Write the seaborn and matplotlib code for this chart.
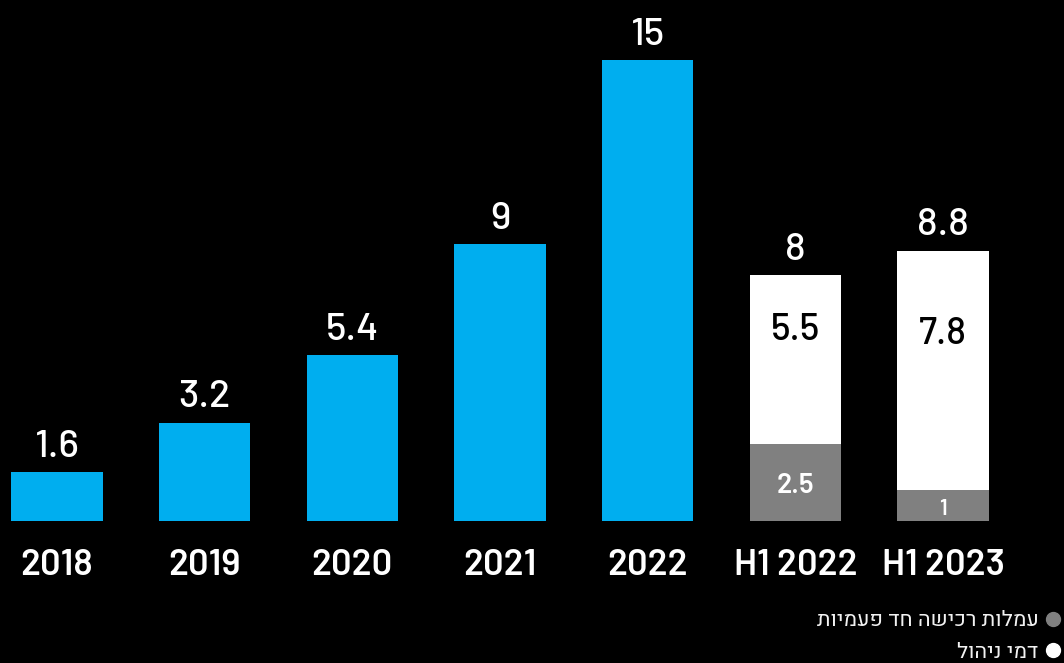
import numpy as np
import pandas as pd
import matplotlib
matplotlib.use("Agg")
import matplotlib.pyplot as plt
from matplotlib.lines import Line2D
import seaborn as sns

# Revenue by period (one-time acquisition fees + management fees)
categories = ["2018", "2019", "2020", "2021", "2022", "H1 2022", "H1 2023"]
annual_totals = [1.6, 3.2, 5.4, 9, 15, None, None]
acquisition_fees = [None, None, None, None, None, 2.5, 1]
management_fees = [None, None, None, None, None, 5.5, 7.8]
half_year_totals = [None, None, None, None, None, 8, 8.8]

legend_labels = ["עמלות רכישה חד פעמיות", "דמי ניהול"]

BLUE = "#00AEEF"
GRAY = "#808080"
WHITE = "#FFFFFF"
BG = "#000000"
NUM_FONT = ["Barlow", "DejaVu Sans"]
HEB_FONT = ["Heebo", "Noto Sans Hebrew", "DejaVu Sans"]

sns.set_theme(style="white")
plt.rcParams["font.family"] = NUM_FONT

df = pd.DataFrame({
    "category": categories,
    "annual": annual_totals,
    "fees": acquisition_fees,
    "mgmt": management_fees,
    "half_total": half_year_totals,
})
df["stack_top"] = df["fees"] + df["mgmt"]

fig = plt.figure(figsize=(10.64, 6.63), dpi=100, facecolor=BG)
ax = fig.add_axes([0, 142 / 663, 1, 507 / 663], facecolor=BG)

bar_w = 0.62
sns.barplot(data=df, x="category", y="annual", order=categories, color=BLUE,
            width=bar_w, ax=ax, saturation=1, linewidth=0)
sns.barplot(data=df, x="category", y="stack_top", order=categories, color=WHITE,
            width=bar_w, ax=ax, saturation=1, linewidth=0)
sns.barplot(data=df, x="category", y="fees", order=categories, color=GRAY,
            width=bar_w, ax=ax, saturation=1, linewidth=0)

px_per_unit = 147.67
ax.set_xlim(-57 / px_per_unit, (1064 - 57) / px_per_unit)
ax.set_ylim(0, 16.5)

def fmt(v):
    return f"{v:g}"

# totals above bars
for i, row in df.iterrows():
    total = row["annual"] if pd.notna(row["annual"]) else row["half_total"]
    ax.annotate(fmt(total), (i, total), xytext=(0, 11), textcoords="offset points",
                ha="center", va="baseline", color="white", fontsize=28,
                fontweight="medium")

# segment labels inside the stacked bars
for i, row in df.iterrows():
    if pd.notna(row["fees"]):
        fs = 20 if row["fees"] >= 2 else 16
        ax.text(i, row["fees"] / 2 - 0.1, fmt(row["fees"]), ha="center", va="center",
                color="white", fontsize=fs, fontweight="semibold")
        ax.text(i, row["fees"] + 0.6 * row["mgmt"] + 0.4, fmt(row["mgmt"]), ha="center",
                va="center", color="black", fontsize=27, fontweight="medium")

ax.set_xlabel("")
ax.set_ylabel("")
ax.set_yticks([])
ax.tick_params(axis="x", length=0, pad=20, labelsize=26, labelcolor="white")
for lbl in ax.get_xticklabels():
    lbl.set_fontweight("semibold")
for s in ax.spines.values():
    s.set_visible(False)

# legend (right-to-left: marker on the right of the text)
handles = [
    Line2D([], [], marker="o", linestyle="none", markersize=10,
           markerfacecolor=GRAY, markeredgecolor=GRAY),
    Line2D([], [], marker="o", linestyle="none", markersize=10,
           markerfacecolor=WHITE, markeredgecolor=WHITE),
]
leg = fig.legend(handles, [t[::-1] for t in legend_labels], loc="lower right",
                 bbox_to_anchor=(1061 / 1064, 0 / 663), frameon=False, markerfirst=False,
                 handletextpad=0.35, labelspacing=0.5, handlelength=0.7,
                 borderaxespad=0, borderpad=0,
                 prop={"family": HEB_FONT, "size": 15.5, "weight": "medium"})
for t in leg.get_texts():
    t.set_color("#F2F2F2")

fig.savefig("out.png", dpi=100, facecolor=BG)
